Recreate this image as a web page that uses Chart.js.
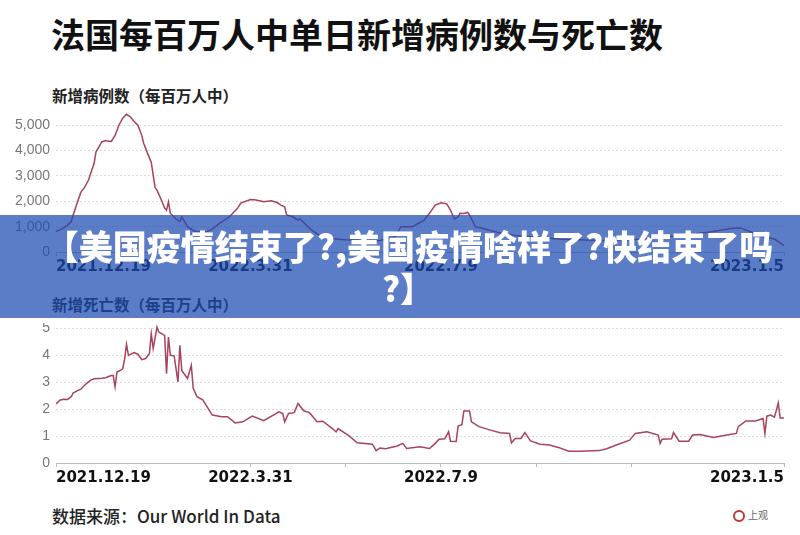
<!DOCTYPE html>
<html>
<head>
<meta charset="utf-8">
<script src="https://cdn.jsdelivr.net/npm/chart.js@4/dist/chart.umd.min.js"></script>
<style>
  html, body { margin: 0; padding: 0; background: #fff; }
  body { width: 800px; height: 535px; position: relative; overflow: hidden; font-family: "Noto Sans CJK SC", "Noto Sans", sans-serif; }
  .abs { position: absolute; white-space: nowrap; }
  #title { left: 51px; top: 14px; font-size: 34px; font-weight: 700; color: #111; line-height: 40px; }
  .sub { left: 52px; font-size: 15.5px; font-weight: 700; color: #222; line-height: 20px; }
  #sub1 { top: 85px; }
  #sub2 { top: 294px; }
  #foot { left: 52px; top: 505px; font-size: 17px; font-weight: 500; color: #222; line-height: 22px; }
  #logo { left: 733px; top: 508px; font-size: 10px; color: #666; line-height: 14px; }
  #logo .ring { display: inline-block; width: 8px; height: 8px; border: 2.5px solid #c0392b; border-radius: 50%; vertical-align: middle; margin-right: 3px; }
  #banner { left: 0; top: 215px; width: 800px; height: 103px; background: rgba(28,75,179,0.72); }
  .bline { position: absolute; width: 800px; text-align: center; color: #fff; font-size: 34px; font-weight: 900; line-height: 42px; white-space: nowrap; }
  #c1wrap { left: 0; top: 110px; width: 800px; height: 172px; }
  #c2wrap { left: 0; top: 323px; width: 800px; height: 170px; }
</style>
</head>
<body>
<div id="title" class="abs">法国每百万人中单日新增病例数与死亡数</div>
<div id="sub1" class="abs sub">新增病例数（每百万人中）</div>
<div id="c1wrap" class="abs"><canvas id="c1" width="800" height="172"></canvas></div>
<div id="sub2" class="abs sub">新增死亡数（每百万人中）</div>
<div id="c2wrap" class="abs"><canvas id="c2" width="800" height="170"></canvas></div>
<div id="foot" class="abs">数据来源：Our World In Data</div>
<div id="logo" class="abs"><span class="ring"></span>上观</div>
<div id="banner" class="abs">
  <div class="bline" style="top:10px; left:9px;">【美国疫情结束了?,美国疫情啥样了?快结束了吗</div>
  <div class="bline" style="top:52px; left:8px;">?】</div>
</div>
<script>
// x values are days since 2021-12-19
const xTickDays   = [0, 102, 152, 202, 252, 302, 382];
const xTickLabels = ['2021.12.19', '2022.3.31', '', '2022.7.9', '', '', '2023.1.5'];

const caseTicks = [0, 1000, 2000, 3000, 4000, 5000];
const caseDays = [0, 3, 6, 8, 9, 11, 13, 15, 17, 20, 21, 23, 24, 26, 27, 29, 31, 33, 35, 37, 39, 41, 43, 45, 46, 48, 50, 52, 53, 55, 57, 58, 59, 60, 63, 65, 66, 69, 72, 74, 79, 82, 86, 91, 95, 97, 102, 105, 109, 113, 116, 118, 120, 121, 124, 127, 128, 134, 139, 145, 152, 158, 163, 170, 178, 181, 187, 193, 196, 199, 202, 205, 207, 209, 211, 212, 214, 216, 217, 220, 223, 228, 233, 241, 249, 265, 286, 307, 328, 344, 354, 359, 363, 371, 377, 382];
const caseValues = [820, 900, 1060, 1200, 1460, 1900, 2350, 2550, 2830, 3500, 3950, 4200, 4340, 4400, 4380, 4360, 4600, 5000, 5280, 5430, 5330, 5150, 5000, 4600, 4290, 3900, 3530, 2540, 2440, 2100, 1730, 1650, 1980, 1530, 1300, 1200, 1390, 1000, 850, 800, 800, 900, 1140, 1390, 1700, 1930, 2070, 2050, 1980, 2020, 1950, 1850, 1780, 1460, 1400, 1260, 1300, 870, 620, 520, 480, 460, 400, 450, 600, 1000, 1000, 1250, 1530, 1850, 1940, 1900, 1650, 1300, 1390, 1530, 1520, 1560, 1460, 1000, 950, 850, 750, 650, 600, 500, 450, 500, 650, 800, 930, 950, 840, 600, 510, 250];

const deathTicks = [0, 1, 2, 3, 4, 5];
const deathDays = [0, 2, 4, 6, 8, 9, 11, 13, 15, 18, 20, 24, 26, 29, 30, 31, 32, 34, 35, 36, 37, 38, 41, 43, 45, 47, 49, 50, 51, 53, 54, 57, 58, 59, 60, 62, 64, 65, 66, 69, 71, 72, 74, 77, 82, 87, 90, 94, 98, 103, 109, 117, 119, 120, 122, 125, 127, 130, 133, 137, 140, 145, 147, 148, 154, 158, 166, 168, 170, 173, 179, 182, 184, 191, 196, 199, 201, 204, 206, 207, 210, 211, 213, 214, 217, 218, 222, 228, 233, 238, 239, 241, 244, 246, 249, 254, 259, 264, 269, 275, 285, 289, 294, 301, 304, 310, 316, 317, 318, 323, 324, 327, 332, 334, 338, 345, 352, 357, 358, 362, 367, 371, 372, 373, 375, 377, 379, 380, 382];
const deathValues = [2.19, 2.33, 2.37, 2.36, 2.46, 2.60, 2.68, 2.74, 2.89, 3.07, 3.13, 3.15, 3.17, 3.25, 3.25, 2.83, 3.38, 3.45, 3.50, 3.85, 4.41, 4.00, 4.10, 4.04, 3.84, 3.88, 4.06, 4.80, 4.25, 5.05, 4.86, 4.74, 3.32, 4.68, 4.00, 3.98, 3.01, 4.37, 3.44, 3.14, 3.63, 2.77, 2.46, 2.35, 1.78, 1.72, 1.72, 1.49, 1.53, 1.74, 1.57, 1.90, 1.84, 1.53, 1.84, 1.87, 2.21, 1.94, 1.87, 1.53, 1.55, 1.28, 1.16, 1.28, 1.00, 0.75, 0.70, 0.46, 0.56, 0.53, 0.63, 0.73, 0.54, 0.60, 0.54, 0.73, 0.88, 0.90, 1.16, 0.81, 0.80, 1.37, 1.42, 1.93, 1.93, 1.53, 1.35, 1.22, 1.12, 1.10, 0.75, 0.91, 0.91, 1.13, 0.82, 0.70, 0.67, 0.57, 0.44, 0.44, 0.46, 0.53, 0.67, 0.85, 1.10, 1.16, 1.04, 0.73, 0.88, 0.90, 1.13, 0.81, 0.81, 1.04, 1.06, 0.95, 1.04, 1.10, 1.35, 1.56, 1.56, 1.65, 1.10, 1.74, 1.78, 1.70, 2.23, 1.67, 1.67];

function pts(xs, ys) { return xs.map((x, i) => ({ x: x, y: ys[i] })); }

function makeChart(id, xs, ys, yTicks, yMax, fmt, color) {
  return new Chart(document.getElementById(id), {
    type: 'line',
    data: { datasets: [{ data: pts(xs, ys), borderColor: color, borderWidth: 1.5, pointRadius: 0, tension: 0, fill: false }] },
    options: {
      responsive: false, animation: false, devicePixelRatio: 1,
      layout: { padding: { left: 0, right: 16, top: 0, bottom: 0 } },
      plugins: { legend: { display: false }, tooltip: { enabled: false } },
      scales: {
        x: {
          type: 'linear', min: xTickDays[0], max: xTickDays[xTickDays.length - 1],
          afterBuildTicks: s => { s.ticks = xTickDays.map(v => ({ value: v })); },
          afterFit: s => { s.height = 30; s.paddingLeft = 0; s.paddingRight = 0; },
          grid: { drawOnChartArea: false, drawTicks: true, tickLength: 4, color: '#bbbbbb' },
          border: { display: true, color: '#bbbbbb', width: 1 },
          ticks: {
            align: 'inner', autoSkip: false, maxRotation: 0, padding: 2, color: '#111',
            font: { family: 'DejaVu Sans', size: 15, weight: 'bold' },
            callback: v => { const i = xTickDays.indexOf(v); return i >= 0 ? xTickLabels[i] : ''; }
          }
        },
        y: {
          min: 0, max: yMax,
          afterBuildTicks: s => { s.ticks = yTicks.map(v => ({ value: v })); },
          afterFit: s => { s.width = 56; s.paddingTop = 0; s.paddingBottom = 0; },
          grid: { drawTicks: false, color: '#dadada', lineWidth: 1 },
          border: { display: false, dash: [2, 2] },
          ticks: { padding: 6, color: '#777', font: { family: 'Liberation Sans', size: 14 }, callback: fmt }
        }
      }
    }
  });
}

makeChart('c1', caseDays, caseValues, caseTicks, 5600, v => v.toLocaleString('en-US'), '#a8435a');
makeChart('c2', deathDays, deathValues, deathTicks, 5.2, v => String(v), '#a8435c');
</script>
</body>
</html>
